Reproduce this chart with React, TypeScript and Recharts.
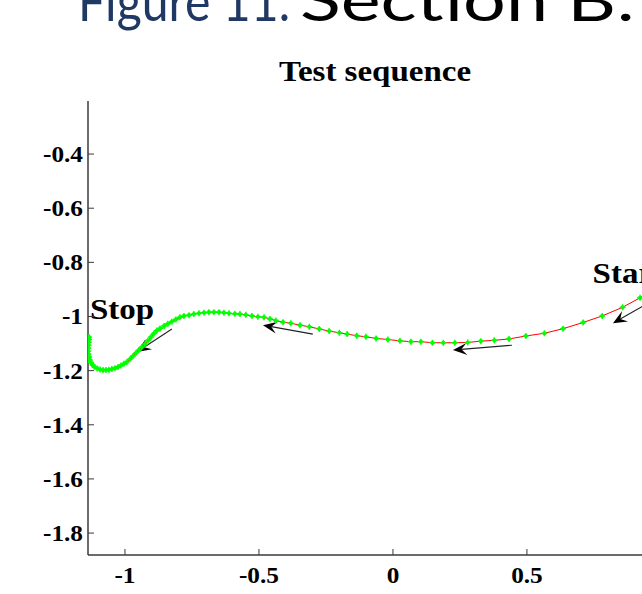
import React from 'react';
import { ComposedChart, Scatter, XAxis, YAxis, ReferenceLine, ReferenceDot } from 'recharts';

// axis settings
const xDomain: [number, number] = [-1.138, 0.963];
const yDomain: [number, number] = [-1.881, -0.204];
const xTicks = [-1, -0.5, 0, 0.5];
const yTicks = [-1.8, -1.6, -1.4, -1.2, -1, -0.8, -0.6, -0.4];

// trajectory samples, in travel order (Start on the right -> Stop on the left)
const trajX = [
  0.985, 0.922, 0.857, 0.781, 0.71, 0.635, 0.565, 0.496, 0.433, 0.378, 0.328, 0.279, 0.231, 0.188,
  0.147, 0.104, 0.067, 0.026, -0.019, -0.063, -0.101, -0.135, -0.171, -0.2, -0.238, -0.275, -0.312,
  -0.347, -0.381, -0.41, -0.437, -0.459, -0.481, -0.504, -0.526, -0.549, -0.571, -0.59, -0.612,
  -0.631, -0.649, -0.668, -0.687, -0.705, -0.724, -0.743, -0.761, -0.78, -0.795, -0.81, -0.825,
  -0.84, -0.854, -0.869, -0.881, -0.892, -0.903, -0.914, -0.925, -0.937, -0.948, -0.959, -0.97,
  -0.981, -0.993, -1.004, -1.015, -1.026, -1.037, -1.049, -1.06, -1.071, -1.082, -1.093, -1.104,
  -1.114, -1.121, -1.127, -1.131, -1.134, -1.136, -1.137, -1.137, -1.136, -1.135, -1.134, -1.134,
];
const trajY = [
  -0.893, -0.931, -0.966, -0.998, -1.022, -1.045, -1.062, -1.072, -1.083, -1.088, -1.091, -1.096,
  -1.097, -1.097, -1.097, -1.093, -1.093, -1.09, -1.085, -1.081, -1.075, -1.071, -1.065, -1.06,
  -1.054, -1.046, -1.038, -1.032, -1.025, -1.021, -1.015, -1.009, -1.003, -1.001, -0.998, -0.994,
  -0.991, -0.99, -0.988, -0.986, -0.984, -0.984, -0.984, -0.986, -0.988, -0.991, -0.995, -0.998,
  -1.003, -1.011, -1.019, -1.027, -1.035, -1.044, -1.052, -1.063, -1.076, -1.089, -1.102, -1.113,
  -1.124, -1.135, -1.146, -1.157, -1.168, -1.175, -1.181, -1.187, -1.191, -1.194, -1.197, -1.198,
  -1.198, -1.196, -1.192, -1.186, -1.179, -1.17, -1.161, -1.15, -1.139, -1.128, -1.117, -1.106,
  -1.095, -1.085, -1.076,
];

// direction arrows: tail -> head
const arrowTailX = [-0.825, -0.299, 0.444, 0.959];
const arrowTailY = [-1.046, -1.065, -1.106, -0.947];
const arrowHeadX = [-0.955, -0.485, 0.224, 0.821];
const arrowHeadY = [-1.131, -1.032, -1.124, -1.025];

// text annotations
const annotText = ['Stop', 'Start'];
const annotX = [-1.131, 0.745];
const annotY = [-1.0095, -0.878];

const chartTitle = 'Test sequence';
const headerBlue = 'Figure 11.';
const headerBlack = 'Section B:';

const points = trajX.map((x, i) => ({ x, y: trajY[i] }));

const AXIS = '#3a3a3a';
const SERIF = '"Liberation Serif", "Times New Roman", serif';
const STRETCH = 1.1;

const fmt = (v: number) => String(v);

const YTick = (props: any) => {
  const { x, y, payload } = props;
  return (
    <g>
      <line x1={x} y1={y} x2={x + 6} y2={y} stroke={AXIS} strokeWidth={1} />
      <text
        transform={`translate(${x - 5},${y + 8}) scale(${STRETCH},1)`}
        textAnchor="end"
        fontFamily={SERIF}
        fontWeight="bold"
        fontSize={23}
        fill="#000"
      >
        {fmt(payload.value)}
      </text>
    </g>
  );
};

const XTick = (props: any) => {
  const { x, y, payload } = props;
  return (
    <g>
      <line x1={x} y1={y} x2={x} y2={y - 6} stroke={AXIS} strokeWidth={1} />
      <text
        transform={`translate(${x},${y + 28}) scale(${STRETCH},1)`}
        textAnchor="middle"
        fontFamily={SERIF}
        fontWeight="bold"
        fontSize={23}
        fill="#000"
      >
        {fmt(payload.value)}
      </text>
    </g>
  );
};

const TopTick = (props: any) => {
  const { x, y } = props;
  return <line x1={x} y1={y} x2={x} y2={y + 6} stroke={AXIS} strokeWidth={1} />;
};

const Marker = (props: any) => {
  const { cx, cy } = props;
  if (cx == null || cy == null) return null;
  return (
    <g>
      <circle cx={cx} cy={cy} r={2.1} fill="#00ff00" />
      <line x1={cx - 3} y1={cy} x2={cx + 3} y2={cy} stroke="#00ff00" strokeWidth={1.4} />
      <line x1={cx} y1={cy - 3} x2={cx} y2={cy + 3} stroke="#00ff00" strokeWidth={1.4} />
    </g>
  );
};

const Arrow = (props: any) => {
  const { x1, y1, x2, y2 } = props;
  const dx = x2 - x1;
  const dy = y2 - y1;
  const len = Math.sqrt(dx * dx + dy * dy) || 1;
  const ux = dx / len;
  const uy = dy / len;
  const px = -uy;
  const py = ux;
  const L = 14;
  const W = 6;
  const bx = x2 - ux * L;
  const by = y2 - uy * L;
  const nx = x2 - ux * L * 0.6;
  const ny = y2 - uy * L * 0.6;
  const head = `${x2},${y2} ${bx + px * W},${by + py * W} ${nx},${ny} ${bx - px * W},${by - py * W}`;
  return (
    <g>
      <line x1={x1} y1={y1} x2={nx} y2={ny} stroke="#222" strokeWidth={1.1} />
      <polygon points={head} fill="#000" />
    </g>
  );
};

const makeLabel = (text: string) => (props: any) => {
  const { cx, cy } = props;
  return (
    <text
      transform={`translate(${cx},${cy}) scale(${STRETCH},1)`}
      fontFamily={SERIF}
      fontWeight="bold"
      fontSize={30}
      fill="#000"
    >
      {text}
    </text>
  );
};

export default function App() {
  return (
    <div
      style={{
        position: 'absolute',
        left: 0,
        top: 0,
        width: 642,
        height: 594,
        overflow: 'hidden',
        background: '#fff',
      }}
    >
      <div style={{ position: 'absolute', left: 0, top: 0 }}>
        <ComposedChart
          width={700}
          height={594}
          margin={{ top: 101, right: 49, bottom: 0, left: 0 }}
        >
          <XAxis
            xAxisId="top"
            orientation="top"
            type="number"
            dataKey="x"
            domain={xDomain}
            ticks={xTicks}
            allowDataOverflow
            height={0}
            tickSize={0}
            tickMargin={0}
            tickLine={false}
            tick={<TopTick />}
            axisLine={{ stroke: AXIS, strokeWidth: 1.5 }}
          />
          <XAxis
            type="number"
            dataKey="x"
            domain={xDomain}
            ticks={xTicks}
            allowDataOverflow
            height={39}
            tickSize={0}
            tickMargin={0}
            tickLine={false}
            tick={<XTick />}
            axisLine={{ stroke: AXIS, strokeWidth: 1.5 }}
          />
          <YAxis
            type="number"
            dataKey="y"
            domain={yDomain}
            ticks={yTicks}
            allowDataOverflow
            width={88}
            tickSize={0}
            tickMargin={0}
            tickLine={false}
            tick={<YTick />}
            axisLine={{ stroke: AXIS, strokeWidth: 1.5 }}
          />
          <Scatter
            data={points}
            isAnimationActive={false}
            line={{ stroke: '#ff0000', strokeWidth: 1 }}
            lineType="joint"
            shape={<Marker />}
          />
          {arrowTailX.map((tx, i) => (
            <ReferenceLine
              key={`arrow-${i}`}
              segment={[
                { x: tx, y: arrowTailY[i] },
                { x: arrowHeadX[i], y: arrowHeadY[i] },
              ]}
              ifOverflow="visible"
              shape={Arrow}
            />
          ))}
          {annotText.map((t, i) => (
            <ReferenceDot
              key={`lbl-${i}`}
              x={annotX[i]}
              y={annotY[i]}
              r={0}
              ifOverflow="visible"
              shape={makeLabel(t)}
            />
          ))}
        </ComposedChart>
      </div>
      <svg
        width={642}
        height={100}
        style={{ position: 'absolute', left: 0, top: 0 }}
      >
        <text
          x={78}
          y={21}
          fontFamily='Lato, "Open Sans", sans-serif'
          fontSize={54}
          fill="#1f3864"
          textLength={212}
          lengthAdjust="spacingAndGlyphs"
        >
          {headerBlue}
        </text>
        <text
          x={300}
          y={21}
          fontFamily='Lato, "Open Sans", sans-serif'
          fontSize={58}
          fill="#000"
          textLength={335}
          lengthAdjust="spacingAndGlyphs"
        >
          {headerBlack}
        </text>
        <text
          transform={`translate(375,81) scale(${STRETCH},1)`}
          textAnchor="middle"
          fontFamily={SERIF}
          fontWeight="bold"
          fontSize={30}
          fill="#000"
        >
          {chartTitle}
        </text>
      </svg>
    </div>
  );
}
